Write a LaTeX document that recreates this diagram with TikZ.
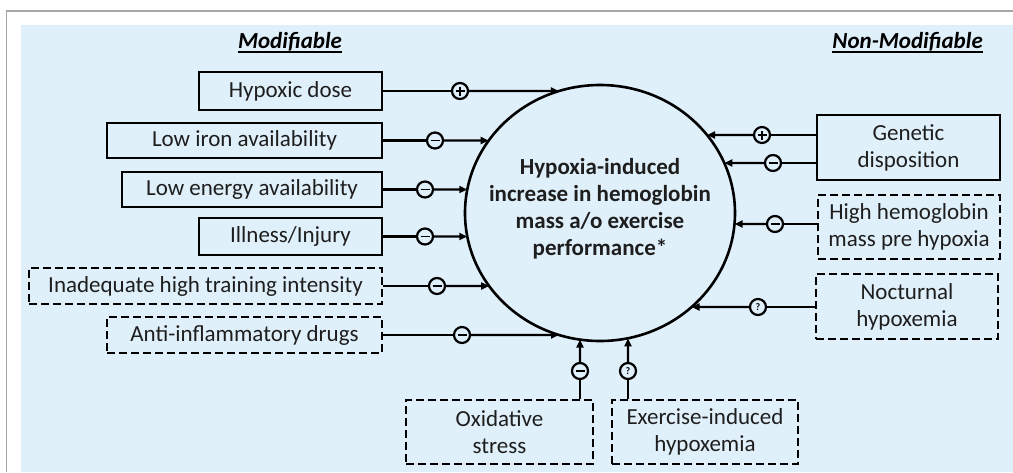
\documentclass[tikz,border=0pt]{standalone}
\usepackage{fontspec}
\setmainfont{Carlito}
\usetikzlibrary{arrows.meta,intersections,calc}
\definecolor{bgblue}{RGB}{224,240,250}
\definecolor{framegray}{RGB}{166,166,166}
\definecolor{txt}{RGB}{30,30,30}
\begin{document}
\begin{tikzpicture}[x=1pt,y=-1pt,
  box/.style={draw=black, line width=2.8pt, inner sep=0pt, align=center, text=txt,
    font=\fontsize{23}{27}\selectfont},
  dbox/.style={box, dash pattern=on 8pt off 4pt},
  title/.style={inner sep=0pt, text=black, font=\fontsize{23}{27}\selectfont\bfseries\itshape},
  conn/.style={line width=2.2pt, draw=black},
  arr/.style={conn, -{Triangle[length=8pt,width=7pt]}},
  sign/.style={circle, draw=black, line width=2.2pt, minimum size=16pt, inner sep=0pt, fill=bgblue},
  psign/.style={sign, path picture={\draw[line width=1.4pt]
      ([xshift=-4.5pt]path picture bounding box.center) -- ([xshift=4.5pt]path picture bounding box.center)
      ([yshift=-4.5pt]path picture bounding box.center) -- ([yshift=4.5pt]path picture bounding box.center);}},
  msign/.style={sign, path picture={\draw[line width=1.4pt]
      ([xshift=-4.5pt]path picture bounding box.center) -- ([xshift=4.5pt]path picture bounding box.center);}},
  qsign/.style={sign, font=\fontsize{10}{10}\selectfont\bfseries}
]
\useasboundingbox (0,0) rectangle (1013,472);
\fill[bgblue] (21,25) rectangle (1013,472);
\draw[framegray, line width=1.5pt] (6.7,472) -- (6.7,11) -- (1013,11);

% titles
\node[title] (mod) at (290,42) {Modifiable};
\draw[line width=1.6pt] ([yshift=-3.5pt]mod.base west) -- ([yshift=-3.5pt]mod.base east);
\node[title, anchor=east] (nmod) at (983,42) {Non-Modifiable};
\draw[line width=1.6pt] ([yshift=-3.5pt]nmod.base west) -- ([yshift=-3.5pt]nmod.base east);

% central ellipse
\draw[line width=2.6pt, name path=E] (600,213) ellipse [x radius=135, y radius=128];
\node[align=center, text=txt, font=\fontsize{23}{27}\selectfont\bfseries] (C) at (600,209)
  {Hypoxia-induced\\increase in hemoglobin\\mass a/o exercise\\performance*};

% left boxes
\node[box, minimum width=183pt, minimum height=38pt] (hd) at (290.5,91) {Hypoxic dose};
\node[box, minimum width=275pt, minimum height=35pt] (iron) at (244.5,140.5) {Low iron availability};
\node[box, minimum width=260pt, minimum height=35pt] (en) at (252,189.5) {Low energy availability};
\node[box, minimum width=183pt, minimum height=37pt] (ill) at (290.5,236.5) {Illness/Injury};
\node[dbox, minimum width=353pt, minimum height=36pt] (inad) at (205.5,286) {Inadequate high training intensity};
\node[dbox, minimum width=275pt, minimum height=36pt] (anti) at (244.5,335) {Anti-inflammatory drugs};

% right boxes
\node[box, minimum width=183pt, minimum height=65pt] (gen) at (908.5,147.5) {Genetic\\disposition};
\node[dbox, minimum width=182pt, minimum height=64pt] (hhm) at (909,227) {High hemoglobin\\mass pre hypoxia};
\node[dbox, minimum width=182pt, minimum height=65pt] (noc) at (907,306.5) {Nocturnal\\hypoxemia};

% bottom boxes
\node[dbox, minimum width=187pt, minimum height=64pt] (oxi) at (499.5,432) {Oxidative\\stress};
\node[dbox, minimum width=186pt, minimum height=64pt] (exi) at (705,432) {Exercise-induced\\hypoxemia};

% sign nodes
\node[psign] (s1) at (460,91) {};
\node[msign] (s2) at (435,140.5) {};
\node[msign] (s3) at (425,189.5) {};
\node[msign] (s4) at (425,236.5) {};
\node[msign] (s5) at (437,286) {};
\node[msign] (s6) at (462,335) {};
\node[psign] (r1) at (762,135) {};
\node[msign] (r2) at (773,163) {};
\node[msign] (r3) at (775,224) {};
\node[qsign] (r4) at (758,307) {?};
\node[msign] (b1) at (580,371) {};
\node[qsign] (b2) at (628,371) {?};

% box to sign
\draw[conn] (hd) -- (s1);
\draw[conn] (iron) -- (s2);
\draw[conn] (en) -- (s3);
\draw[conn] (ill) -- (s4);
\draw[conn] (inad) -- (s5);
\draw[conn] (anti) -- (s6);
\draw[conn] (gen.west |- r1) -- (r1);
\draw[conn] (gen.west |- r2) -- (r2);
\draw[conn] (hhm.west |- r3) -- (r3);
\draw[conn] (noc.west |- r4) -- (r4);
\draw[conn] (oxi.north -| b1) -- (b1);
\draw[conn] (exi.north -| b2) -- (b2);

% sign to ellipse
\foreach \s in {s1,s2,s3,s4,s5,s6,r1,r2,r3,r4}{
  \path[name path=L\s] (\s) -- (\s -| C.center);
  \path[name intersections={of=E and L\s, by={t\s}}];
  \draw[arr] (\s) -- (t\s);
}
\foreach \s in {b1,b2}{
  \path[name path=L\s] (\s) -- (\s |- C.center);
  \path[name intersections={of=E and L\s, by={t\s}}];
  \draw[arr] (\s) -- (t\s);
}
\end{tikzpicture}
\end{document}
